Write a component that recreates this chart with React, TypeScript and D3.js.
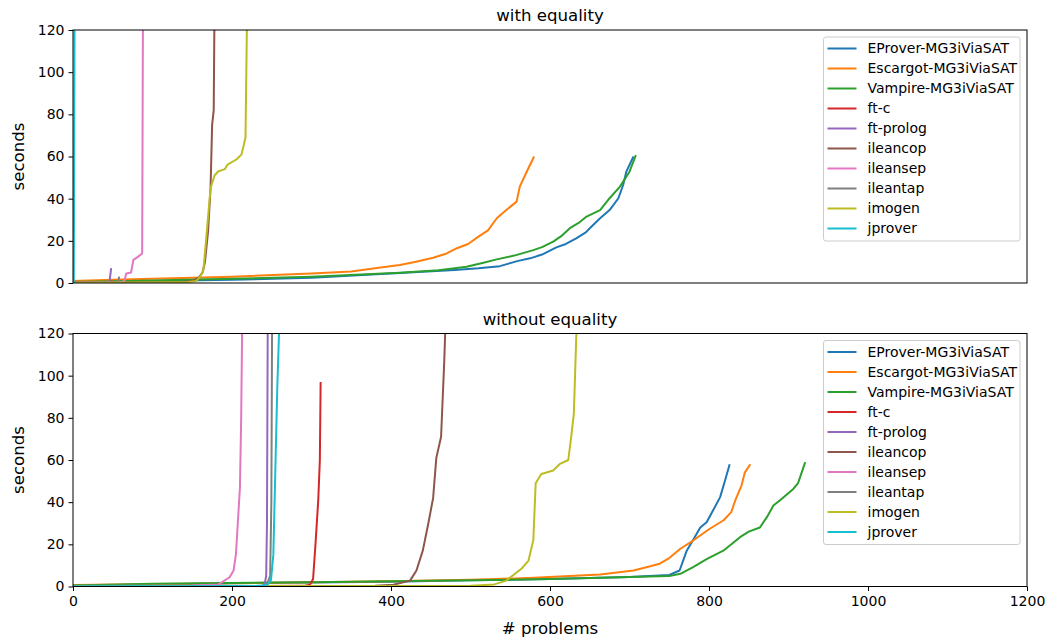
import React, { useRef, useEffect } from "react";
import * as d3 from "d3";

type Pt = [number, number];

const names = [
  "EProver-MG3iViaSAT",
  "Escargot-MG3iViaSAT",
  "Vampire-MG3iViaSAT",
  "ft-c",
  "ft-prolog",
  "ileancop",
  "ileansep",
  "ileantap",
  "imogen",
  "jprover",
];

const colors = [
  "#1f77b4", "#ff7f0e", "#2ca02c", "#d62728", "#9467bd",
  "#8c564b", "#e377c2", "#7f7f7f", "#bcbd22", "#17becf",
];

const xTicks = [0, 200, 400, 600, 800, 1000, 1200];
const yTicks = [0, 20, 40, 60, 80, 100, 120];

// with equality: [# problems, seconds]
const eqEprover: Pt[] = [[0, 0.3], [100, 1], [200, 1.5], [300, 2.5], [411, 4.7], [480, 6.2], [510, 7], [537, 8], [560, 10.5], [575, 11.7], [590, 13.5], [608, 16.9], [620, 18.5], [633, 21.2], [645, 24], [652, 26.7], [663, 30.7], [675, 34.6], [686, 40.2], [692, 46.5], [696, 52.8], [705, 60]];
const eqEscargot: Pt[] = [[0, 1], [50, 1.5], [100, 2], [200, 3], [300, 4.5], [350, 5.5], [380, 7], [411, 8.5], [430, 10], [453, 12], [470, 14], [483, 16.5], [497, 18.5], [510, 22], [522, 25], [533, 30.7], [545, 34.6], [558, 38.6], [562, 45.7], [571, 53], [580, 60]];
const eqVampire: Pt[] = [[0, 0.5], [100, 1.2], [200, 2], [300, 3], [411, 4.9], [460, 6], [495, 7.7], [515, 9.5], [533, 11.2], [555, 13], [579, 15.6], [590, 17], [604, 19.6], [615, 22.5], [625, 26], [636, 28.5], [646, 31.5], [663, 34.6], [675, 40.2], [688, 45.7], [700, 52.8], [708, 60.7]];
const eqFtc: Pt[] = [[1, 0.1], [40, 0.3], [50, 0.8]];
const eqFtprolog: Pt[] = [[1, 0.1], [45, 0.4], [46, 0.8], [48, 7]];
const eqIleancop: Pt[] = [[1, 0.1], [100, 0.3], [140, 0.6], [150, 1], [158, 2.5], [163, 5], [166, 10], [170, 25], [173, 45], [175, 75], [177, 82], [178, 130]];
const eqIleansep: Pt[] = [[1, 0.1], [60, 0.4], [64, 0.8], [65, 1.5], [67, 4.5], [73, 5], [76, 11], [82, 12.5], [87, 14], [88, 130]];
const eqIleantap: Pt[] = [[1, 0.1], [56, 0.4], [57, 0.8], [58, 3]];
const eqImogen: Pt[] = [[1, 0.1], [140, 0.3], [155, 1], [160, 3], [164, 6], [168, 23], [173, 45], [178, 51], [183, 53], [191, 54], [194, 56], [206, 58.7], [212, 61], [217, 69], [219, 130]];
const eqJprover: Pt[] = [[0, 0.2], [1, 0.5], [2, 130]];

// without equality
const neEprover: Pt[] = [[0, 0.3], [200, 1.5], [400, 2.3], [500, 3], [600, 3.5], [700, 4.5], [750, 5.5], [763, 7.6], [772, 17], [782, 23.4], [789, 28], [797, 30.5], [805, 36], [814, 42.4], [820, 50], [826, 58]];
const neEscargot: Pt[] = [[0, 0.7], [200, 1.5], [400, 2.5], [500, 3.2], [580, 4.1], [663, 5.7], [705, 7.6], [725, 9.5], [738, 10.8], [750, 13.5], [764, 17.9], [780, 21.8], [801, 27.4], [818, 31.3], [828, 35.3], [833, 40.8], [841, 48], [845, 54], [852, 58]];
const neVampire: Pt[] = [[0, 0.5], [100, 1.3], [300, 2], [400, 2.5], [500, 3], [600, 3.5], [700, 4.5], [750, 5], [764, 6], [780, 9.2], [797, 13], [818, 17], [839, 23.4], [850, 26], [864, 28], [873, 33], [881, 38.4], [889, 40.8], [906, 46.3], [912, 49], [916, 53.4], [921, 59]];
const neFtc: Pt[] = [[1, 0.1], [290, 0.3], [298, 0.8], [302, 3.6], [305, 20], [308.5, 41], [310.5, 60], [311.5, 97]];
const neFtprolog: Pt[] = [[1, 0.1], [238, 0.3], [241, 1], [243, 5], [244, 30], [245, 130]];
const neIleancop: Pt[] = [[1, 0.1], [380, 0.3], [403, 0.8], [424, 2.8], [432, 7.6], [440, 17], [447, 30], [453, 42], [457, 61], [463, 71], [467, 107], [469, 130]];
const neIleansep: Pt[] = [[1, 0.2], [150, 0.5], [183, 1], [197, 4.4], [202, 7.6], [205, 15.5], [208, 34.5], [210, 47], [211.5, 79], [213, 130]];
const neIleantap: Pt[] = [[1, 0.1], [240, 0.3], [244, 1], [248, 5], [249.5, 40], [250.5, 130]];
const neImogen: Pt[] = [[1, 0.1], [500, 0.3], [530, 1], [545, 2.8], [564, 8.4], [573, 12.3], [579, 22], [582, 49], [589, 53.4], [604, 55], [612, 58], [623, 60], [627, 72], [630, 82], [634, 130]];
const neJprover: Pt[] = [[1, 0.1], [235, 0.3], [245, 1], [249, 3], [252, 15], [255, 63], [257, 95], [260, 130]];

const panels = [
  { title: "with equality", series: [eqEprover, eqEscargot, eqVampire, eqFtc, eqFtprolog, eqIleancop, eqIleansep, eqIleantap, eqImogen, eqJprover] },
  { title: "without equality", series: [neEprover, neEscargot, neVampire, neFtc, neFtprolog, neIleancop, neIleansep, neIleantap, neImogen, neJprover] },
];

const W = 1045;
const H = 637;
const left = 73;
const right = 1027;
const tops = [30, 333.5];
const ph = 253;
const font = "DejaVu Sans, sans-serif";
const small = "14px";
const big = "16.6px";

const App: React.FC = () => {
  const svgRef = useRef<SVGSVGElement | null>(null);

  useEffect(() => {
    const svg = d3.select(svgRef.current);
    svg.selectAll("*").remove();

    const x = d3.scaleLinear().domain([0, 1200]).range([left, right]);

    panels.forEach((p, i) => {
      const top = tops[i];
      const y = d3.scaleLinear().domain([0, 120]).range([top + ph, top]);
      const g = svg.append("g");

      g.append("clipPath")
        .attr("id", `clip${i}`)
        .append("rect")
        .attr("x", left)
        .attr("y", top)
        .attr("width", right - left)
        .attr("height", ph);

      const line = d3
        .line<Pt>()
        .x((d) => x(d[0]))
        .y((d) => y(d[1]));

      g.append("g")
        .attr("clip-path", `url(#clip${i})`)
        .selectAll("path")
        .data(p.series)
        .join("path")
        .attr("fill", "none")
        .attr("stroke", (_, k) => colors[k])
        .attr("stroke-width", 2)
        .attr("stroke-linejoin", "round")
        .attr("d", (d) => line(d));

      // y axis
      const ya = g
        .append("g")
        .attr("transform", `translate(${left},0)`)
        .call(d3.axisLeft(y).tickValues(yTicks).tickSize(4.5).tickPadding(4));
      ya.select(".domain").remove();
      ya.selectAll("text").style("font-family", font).style("font-size", small).attr("fill", "#000");
      ya.selectAll("line").attr("stroke", "#000").attr("stroke-width", 1);

      if (i === 1) {
        const xa = g
          .append("g")
          .attr("transform", `translate(0,${top + ph})`)
          .call(
            d3.axisBottom(x).tickValues(xTicks).tickFormat(d3.format("d")).tickSize(4.5).tickPadding(5)
          );
        xa.select(".domain").remove();
        xa.selectAll("text").style("font-family", font).style("font-size", small).attr("fill", "#000");
        xa.selectAll("line").attr("stroke", "#000").attr("stroke-width", 1);
      }

      // frame
      g.append("rect")
        .attr("x", left)
        .attr("y", top)
        .attr("width", right - left)
        .attr("height", ph)
        .attr("fill", "none")
        .attr("stroke", "#000")
        .attr("stroke-width", 1);

      g.append("text")
        .attr("x", (left + right) / 2)
        .attr("y", top - 9)
        .attr("text-anchor", "middle")
        .style("font-family", font)
        .style("font-size", big)
        .text(p.title);

      g.append("text")
        .attr("transform", `translate(24,${top + ph / 2}) rotate(-90)`)
        .attr("text-anchor", "middle")
        .style("font-family", font)
        .style("font-size", big)
        .text("seconds");

      // legend
      const lx = 823.5;
      const ly = top + 7;
      const leg = g.append("g");
      leg.append("rect")
        .attr("x", lx)
        .attr("y", ly)
        .attr("width", 196.5)
        .attr("height", 204)
        .attr("rx", 2.5)
        .attr("fill", "#fff")
        .attr("fill-opacity", 0.8)
        .attr("stroke", "#ccc")
        .attr("stroke-width", 1);
      names.forEach((n, k) => {
        const ry = ly + 11.5 + k * 20;
        leg.append("line")
          .attr("x1", lx + 4)
          .attr("x2", lx + 33)
          .attr("y1", ry)
          .attr("y2", ry)
          .attr("stroke", colors[k])
          .attr("stroke-width", 2);
        leg.append("text")
          .attr("x", lx + 44)
          .attr("y", ry)
          .attr("dy", "0.35em")
          .style("font-family", font)
          .style("font-size", small)
          .text(n);
      });
    });

    svg.append("text")
      .attr("x", (left + right) / 2)
      .attr("y", 634)
      .attr("text-anchor", "middle")
      .style("font-family", font)
      .style("font-size", big)
      .text("# problems");
  }, []);

  return (
    <svg
      ref={svgRef}
      width={W}
      height={H}
      style={{ position: "absolute", left: 0, top: 0, background: "#fff" }}
    ></svg>
  );
};

export default App;
